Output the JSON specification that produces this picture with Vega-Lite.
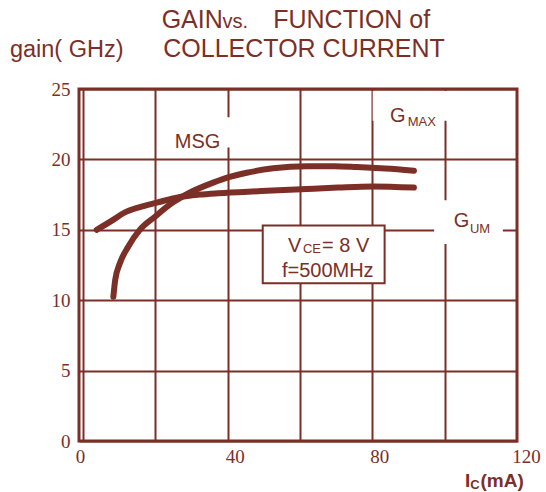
{
  "$schema": "https://vega.github.io/schema/vega-lite/v6.json",
  "width": 438,
  "height": 352,
  "autosize": {"type": "none"},
  "padding": {"left": 79, "top": 89, "right": 29, "bottom": 51},
  "background": "white",
  "config": {
    "view": {"stroke": "#7b2f27", "strokeWidth": 3},
    "axis": {
      "grid": true,
      "gridColor": "#7b2f27",
      "gridWidth": 2,
      "ticks": false,
      "domain": false,
      "labelFont": "Liberation Serif",
      "labelFontSize": 19,
      "labelColor": "#7b2f27",
      "labelFlush": false,
      "title": null
    }
  },
  "datasets": {
    "curves": [
      {"series": "Gum", "ic": 3.8, "gain": 15.0},
      {"series": "Gum", "ic": 8.0, "gain": 15.65},
      {"series": "Gum", "ic": 11.6, "gain": 16.24},
      {"series": "Gum", "ic": 15.5, "gain": 16.6},
      {"series": "Gum", "ic": 20.4, "gain": 16.93},
      {"series": "Gum", "ic": 26.8, "gain": 17.33},
      {"series": "Gum", "ic": 32.2, "gain": 17.5},
      {"series": "Gum", "ic": 37.4, "gain": 17.6},
      {"series": "Gum", "ic": 49.3, "gain": 17.75},
      {"series": "Gum", "ic": 61.9, "gain": 17.9},
      {"series": "Gum", "ic": 70.5, "gain": 18.0},
      {"series": "Gum", "ic": 80.1, "gain": 18.08},
      {"series": "Gum", "ic": 91.5, "gain": 18.0},
      {"series": "Gmax", "ic": 8.4, "gain": 10.25},
      {"series": "Gmax", "ic": 8.9, "gain": 11.43},
      {"series": "Gmax", "ic": 10.2, "gain": 12.62},
      {"series": "Gmax", "ic": 12.5, "gain": 13.8},
      {"series": "Gmax", "ic": 15.7, "gain": 14.99},
      {"series": "Gmax", "ic": 19.9, "gain": 15.93},
      {"series": "Gmax", "ic": 24.9, "gain": 16.95},
      {"series": "Gmax", "ic": 29.6, "gain": 17.65},
      {"series": "Gmax", "ic": 36.0, "gain": 18.35},
      {"series": "Gmax", "ic": 40.1, "gain": 18.72},
      {"series": "Gmax", "ic": 45.3, "gain": 19.05},
      {"series": "Gmax", "ic": 52.6, "gain": 19.37},
      {"series": "Gmax", "ic": 61.9, "gain": 19.52},
      {"series": "Gmax", "ic": 69.5, "gain": 19.52},
      {"series": "Gmax", "ic": 75.7, "gain": 19.46},
      {"series": "Gmax", "ic": 83.6, "gain": 19.35},
      {"series": "Gmax", "ic": 91.5, "gain": 19.2}
    ],
    "masks": [
      {"x": 22.9, "x2": 41.5, "y": 20.85, "y2": 23.0},
      {"x": 80.1, "x2": 101.5, "y": 22.75, "y2": 24.85},
      {"x": 97.1, "x2": 116.1, "y": 14.0, "y2": 17.1}
    ],
    "box": [
      {"x": 49.7, "x2": 83.4, "y": 11.2, "y2": 15.3}
    ],
    "titleText": [
      {"t": "GAIN", "x": 21.75, "y": 29.31},
      {"t": "FUNCTION of", "x": 52.6, "y": 29.31},
      {"t": "COLLECTOR CURRENT", "x": 22.2, "y": 27.25}
    ],
    "yTitleText": [
      {"t": "gain( GHz)", "x": -20.2, "y": 27.29}
    ],
    "smallText": [
      {"t": "vs.", "x": 38.6, "y": 29.31}
    ],
    "labelText": [
      {"t": "MSG", "x": 25.4, "y": 20.81},
      {"t": "G", "x": 84.9, "y": 22.68},
      {"t": "G", "x": 102.5, "y": 15.22},
      {"t": "V", "x": 56.7, "y": 13.44},
      {"t": "= 8 V", "x": 66.1, "y": 13.44},
      {"t": "f=500MHz", "x": 55.0, "y": 11.67}
    ],
    "subText": [
      {"t": "MAX", "x": 89.8, "y": 22.37},
      {"t": "UM", "x": 107.0, "y": 14.79},
      {"t": "CE", "x": 60.8, "y": 13.35}
    ],
    "axisText": [
      {"t": "I", "x": 105.6, "y": -3.28},
      {"t": "(mA)", "x": 109.9, "y": -3.28}
    ],
    "axisSubText": [
      {"t": "C", "x": 107.1, "y": -3.4}
    ]
  },
  "layer": [
    {
      "data": {"name": "masks"},
      "mark": {"type": "rect", "fill": "white", "strokeWidth": 0},
      "encoding": {
        "x": {"field": "x", "type": "quantitative", "scale": {"domain": [-1.1, 120], "nice": false, "zero": false},
              "axis": {"values": [0, 20, 40, 60, 80, 100, 120],
                       "labelExpr": "datum.value % 40 === 0 ? datum.label : ''",
                       "labelPadding": 6,
                       "labelOffset": {"condition": [{"test": "datum.value === 0", "value": -3}, {"test": "datum.value === 120", "value": 9}], "value": 7},
                       "gridOpacity": {"condition": {"test": "datum.value === 120", "value": 0}, "value": 1}}},
        "x2": {"field": "x2"},
        "y": {"field": "y", "type": "quantitative", "scale": {"domain": [0, 25], "nice": false},
              "axis": {"values": [0, 2.5, 5, 7.5, 10, 12.5, 15, 17.5, 20, 22.5, 25],
                       "labelExpr": "datum.value % 5 === 0 ? datum.label : ''",
                       "labelPadding": 9}},
        "y2": {"field": "y2"}
      }
    },
    {
      "data": {"name": "box"},
      "mark": {"type": "rect", "fill": "white", "stroke": "#7b2f27", "strokeWidth": 2},
      "encoding": {
        "x": {"field": "x", "type": "quantitative"},
        "x2": {"field": "x2"},
        "y": {"field": "y", "type": "quantitative"},
        "y2": {"field": "y2"}
      }
    },
    {
      "data": {"name": "curves"},
      "mark": {"type": "line", "color": "#7b2f27", "strokeWidth": 6, "strokeCap": "round", "interpolate": "monotone"},
      "encoding": {
        "x": {"field": "ic", "type": "quantitative"},
        "y": {"field": "gain", "type": "quantitative"},
        "detail": {"field": "series"}
      }
    },
    {
      "data": {"name": "titleText"},
      "mark": {"type": "text", "align": "left", "baseline": "alphabetic", "font": "Liberation Sans", "fontSize": 25, "color": "#7b2f27"},
      "encoding": {
        "x": {"field": "x", "type": "quantitative"},
        "y": {"field": "y", "type": "quantitative"},
        "text": {"field": "t"}
      }
    },
    {
      "data": {"name": "yTitleText"},
      "mark": {"type": "text", "align": "left", "baseline": "alphabetic", "font": "Liberation Sans", "fontSize": 23.5, "color": "#7b2f27"},
      "encoding": {
        "x": {"field": "x", "type": "quantitative"},
        "y": {"field": "y", "type": "quantitative"},
        "text": {"field": "t"}
      }
    },
    {
      "data": {"name": "smallText"},
      "mark": {"type": "text", "align": "left", "baseline": "alphabetic", "font": "Liberation Sans", "fontSize": 20, "color": "#7b2f27"},
      "encoding": {
        "x": {"field": "x", "type": "quantitative"},
        "y": {"field": "y", "type": "quantitative"},
        "text": {"field": "t"}
      }
    },
    {
      "data": {"name": "labelText"},
      "mark": {"type": "text", "align": "left", "baseline": "alphabetic", "font": "Liberation Sans", "fontSize": 20, "color": "#7b2f27"},
      "encoding": {
        "x": {"field": "x", "type": "quantitative"},
        "y": {"field": "y", "type": "quantitative"},
        "text": {"field": "t"}
      }
    },
    {
      "data": {"name": "subText"},
      "mark": {"type": "text", "align": "left", "baseline": "alphabetic", "font": "Liberation Sans", "fontSize": 13, "color": "#7b2f27"},
      "encoding": {
        "x": {"field": "x", "type": "quantitative"},
        "y": {"field": "y", "type": "quantitative"},
        "text": {"field": "t"}
      }
    },
    {
      "data": {"name": "axisText"},
      "mark": {"type": "text", "align": "left", "baseline": "alphabetic", "font": "Liberation Sans", "fontSize": 19, "fontWeight": "bold", "color": "#7b2f27"},
      "encoding": {
        "x": {"field": "x", "type": "quantitative"},
        "y": {"field": "y", "type": "quantitative"},
        "text": {"field": "t"}
      }
    },
    {
      "data": {"name": "axisSubText"},
      "mark": {"type": "text", "align": "left", "baseline": "alphabetic", "font": "Liberation Sans", "fontSize": 13, "fontWeight": "bold", "color": "#7b2f27"},
      "encoding": {
        "x": {"field": "x", "type": "quantitative"},
        "y": {"field": "y", "type": "quantitative"},
        "text": {"field": "t"}
      }
    }
  ]
}
